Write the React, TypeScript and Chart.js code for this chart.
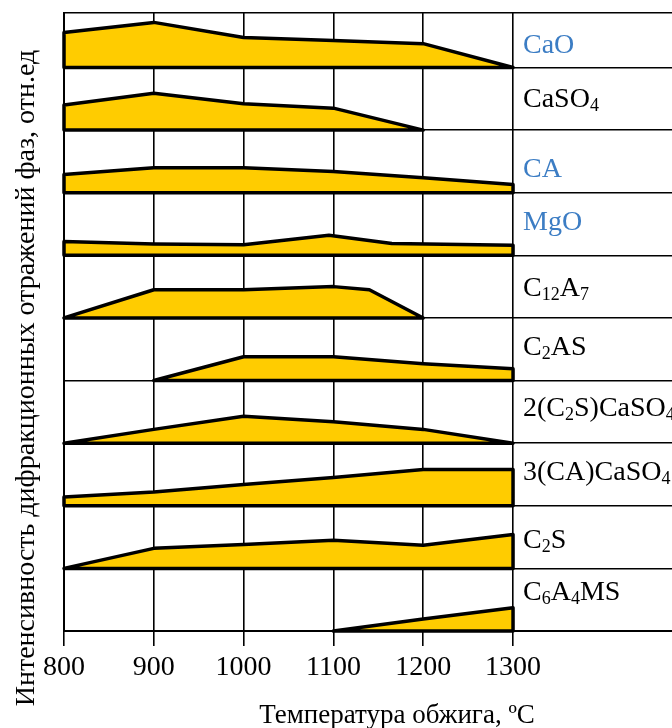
import { useEffect, useRef } from "react";
import { Chart, registerables } from "chart.js";

Chart.register(...registerables);

// Temperatures (x axis ticks)
const temperatures = [800, 900, 1000, 1100, 1200, 1300];

// Phase names (top band first); "_n" marks a subscript
const phases = [
  "CaO",
  "CaSO_4",
  "CA",
  "MgO",
  "C_12A_7",
  "C_2AS",
  "2(C_2S)CaSO_4",
  "3(CA)CaSO_4",
  "C_2S",
  "C_6A_4MS",
];
const phaseColors = [
  "#3C7DC4", "#000000", "#3C7DC4", "#3C7DC4", "#000000",
  "#000000", "#000000", "#000000", "#000000", "#000000",
];

// Relative intensity profiles (band height = 1)
const caoT = [800, 900, 1000, 1100, 1200, 1300];
const caoI = [0.56, 0.72, 0.48, 0.43, 0.38, 0];
const caso4T = [800, 900, 1000, 1100, 1200];
const caso4I = [0.4, 0.59, 0.42, 0.35, 0];
const caT = [800, 900, 1000, 1100, 1200, 1300];
const caI = [0.29, 0.4, 0.4, 0.34, 0.24, 0.13];
const mgoT = [800, 900, 1000, 1095, 1165, 1300];
const mgoI = [0.22, 0.18, 0.17, 0.32, 0.19, 0.16];
const c12a7T = [800, 900, 1000, 1100, 1140, 1200];
const c12a7I = [0, 0.45, 0.45, 0.5, 0.45, 0];
const c2asT = [900, 1000, 1100, 1200, 1300];
const c2asI = [0, 0.38, 0.38, 0.27, 0.19];
const c2sCaso4T = [800, 900, 1000, 1100, 1200, 1300];
const c2sCaso4I = [0, 0.22, 0.43, 0.34, 0.22, 0];
const caCaso4T = [800, 900, 1000, 1100, 1200, 1300];
const caCaso4I = [0.14, 0.22, 0.34, 0.45, 0.58, 0.58];
const c2sT = [800, 900, 1000, 1100, 1200, 1300];
const c2sI = [0, 0.32, 0.38, 0.45, 0.37, 0.54];
const c6a4msT = [1100, 1200, 1300];
const c6a4msI = [0, 0.19, 0.37];

const profileTemps = [caoT, caso4T, caT, mgoT, c12a7T, c2asT, c2sCaso4T, caCaso4T, c2sT, c6a4msT];
const profileValues = [caoI, caso4I, caI, mgoI, c12a7I, c2asI, c2sCaso4I, caCaso4I, c2sI, c6a4msI];

const yTitle = "Интенсивность дифракционных отражений фаз, отн.ед";
const xTitle = "Температура обжига, ºC";

const SERIF = "'Liberation Serif', 'Times New Roman', serif";
const labelLift = [14, 23, 16, 25, 22, 26, 27, 26, 20, 31];

function parseLabel(s: string) {
  const parts: { text: string; sub: boolean }[] = [];
  const re = /_(\d+)/g;
  let last = 0;
  let m: RegExpExecArray | null;
  while ((m = re.exec(s))) {
    if (m.index > last) parts.push({ text: s.slice(last, m.index), sub: false });
    parts.push({ text: m[1], sub: true });
    last = m.index + m[0].length;
  }
  if (last < s.length) parts.push({ text: s.slice(last), sub: false });
  return parts;
}

export default function App() {
  const ref = useRef<HTMLCanvasElement>(null);

  useEffect(() => {
    if (!ref.current) return;
    const n = phases.length;
    const datasets = phases.map((name, i) => {
      const base = n - 1 - i;
      const ts = profileTemps[i];
      const vs = profileValues[i];
      const pts: { x: number; y: number }[] = [];
      pts.push({ x: ts[0], y: base });
      ts.forEach((t, k) => pts.push({ x: t, y: base + vs[k] }));
      pts.push({ x: ts[ts.length - 1], y: base });
      pts.push({ x: ts[0], y: base });
      return {
        label: name,
        data: pts,
        fill: "shape" as any,
        backgroundColor: "#FFCC00",
        borderColor: "#000000",
        borderWidth: 3.5,
        borderJoinStyle: "round" as const,
        borderCapStyle: "round" as const,
        tension: 0,
        pointRadius: 0,
        clip: false as any,
      };
    });

    const textPlugin = {
      id: "texts",
      afterDraw(chart: any) {
        const ctx = chart.ctx as CanvasRenderingContext2D;
        const y = chart.scales.y;
        ctx.save();
        // y title
        ctx.save();
        ctx.translate(27, 378);
        ctx.rotate(-Math.PI / 2);
        ctx.font = `28px ${SERIF}`;
        ctx.fillStyle = "#000";
        ctx.textAlign = "center";
        ctx.textBaseline = "middle";
        ctx.fillText(yTitle, 0, 0);
        ctx.restore();
        // x title
        ctx.font = `27px ${SERIF}`;
        ctx.fillStyle = "#000";
        ctx.textAlign = "center";
        ctx.textBaseline = "alphabetic";
        ctx.fillText(xTitle, 397, 723);
        // phase labels
        ctx.textAlign = "left";
        phases.forEach((name, i) => {
          const base = n - 1 - i;
          const by = y.getPixelForValue(base) - labelLift[i];
          let x = 523;
          ctx.fillStyle = phaseColors[i];
          for (const p of parseLabel(name)) {
            if (p.sub) {
              ctx.font = `18px ${SERIF}`;
              ctx.fillText(p.text, x, by + 4);
            } else {
              ctx.font = `28px ${SERIF}`;
              ctx.fillText(p.text, x, by);
            }
            x += ctx.measureText(p.text).width;
          }
        });
        ctx.restore();
      },
    };

    const chart = new Chart(ref.current, {
      type: "line",
      data: { datasets: datasets as any },
      options: {
        animation: false,
        responsive: false,
        devicePixelRatio: 1,
        layout: { padding: { left: 64, top: 13, right: 0, bottom: 0 } },
        plugins: { legend: { display: false }, tooltip: { enabled: false } },
        scales: {
          x: {
            type: "linear",
            min: 800,
            max: 1477,
            afterBuildTicks: (scale: any) => {
              scale.ticks = temperatures.map((v) => ({ value: v }));
            },
            afterFit: (scale: any) => {
              scale.height = 97;
            },
            grid: { color: "#000", lineWidth: 1.6, tickLength: 15, tickColor: "#000" },
            border: { color: "#000", width: 2 },
            ticks: {
              color: "#000",
              font: { family: SERIF, size: 28 },
              padding: 5,
              maxRotation: 0,
              autoSkip: false,
              callback: (v: any) => String(v),
            },
          },
          y: {
            type: "linear",
            min: 0,
            max: 9.87,
            afterBuildTicks: (scale: any) => {
              const t = [];
              for (let k = 0; k <= 9; k++) t.push({ value: k });
              t.push({ value: 9.87 });
              scale.ticks = t;
            },
            afterFit: (scale: any) => {
              scale.width = 0;
            },
            grid: { color: "#000", lineWidth: 1.6, drawTicks: false },
            border: { color: "#000", width: 2 },
            ticks: { display: false },
          },
        },
      },
      plugins: [textPlugin],
    });
    return () => chart.destroy();
  }, []);

  return (
    <div style={{ position: "fixed", left: 0, top: 0, width: 672, height: 728, background: "#fff" }}>
      <canvas ref={ref} width={672} height={728} style={{ display: "block" }} />
    </div>
  );
}
